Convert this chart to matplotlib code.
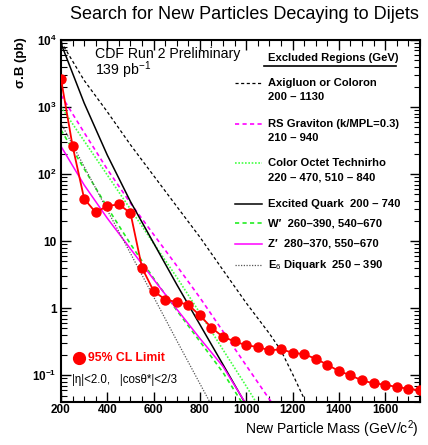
import numpy as np
import matplotlib
matplotlib.use("Agg")
import matplotlib.pyplot as plt
from matplotlib.ticker import MultipleLocator, FixedLocator, FixedFormatter, LogLocator, NullFormatter

# 95% CL limit points
limit_mass = [200, 250, 300, 350, 400, 450, 500, 550, 600, 650, 700, 750, 800, 850,
              900, 950, 1000, 1050, 1100, 1150, 1200, 1250, 1300, 1350, 1400, 1450,
              1500, 1550, 1600, 1650, 1700, 1750]
limit_xs = [2620, 264, 43, 26.8, 33.6, 35.3, 26.4, 4.0, 1.81, 1.35, 1.24, 1.13, 0.78, 0.515,
            0.373, 0.321, 0.280, 0.265, 0.236, 0.244, 0.218, 0.206, 0.177, 0.144, 0.116, 0.100,
            0.084, 0.076, 0.0726, 0.0669, 0.0632, 0.0597]

# theory curves
axi_mass = [200, 300, 400, 500, 600, 700, 800, 900, 1000, 1100, 1150, 1200, 1250]
axi_xs = [9400, 2500, 850, 274, 95, 33, 11.5, 3.7, 1.2, 0.42, 0.235, 0.105, 0.045]

rs_mass = [200, 300, 400, 500, 600, 700, 800, 900, 1000, 1100, 1120]
rs_xs = [1510, 417, 118, 37, 12.6, 4.3, 1.44, 0.45, 0.14, 0.044, 0.035]

rho_mass = [200, 300, 400, 500, 600, 700, 800, 900, 1000, 1050]
rho_xs = [1010, 313, 97, 30, 9.3, 2.9, 0.85, 0.24, 0.069, 0.036]

q_mass = [200, 300, 400, 500, 600, 700, 800, 900, 1000]
q_xs = [8900, 1150, 192, 39, 9.4, 2.26, 0.57, 0.144, 0.036]

w_mass = [200, 300, 400, 500, 600, 700, 800, 900, 980]
w_xs = [457, 120, 32, 9.1, 2.8, 0.93, 0.32, 0.11, 0.04]

z_mass = [200, 300, 400, 500, 600, 700, 800, 900, 1000]
z_xs = [260, 69, 22, 7.7, 2.7, 0.97, 0.355, 0.135, 0.037]

e6_mass = [200, 300, 400, 500, 600, 700, 800, 850]
e6_xs = [575, 130, 29, 6.6, 1.48, 0.33, 0.075, 0.036]

legend_labels = ["Axigluon or Coloron\n200 \u2013 1130",
                 "RS Graviton (k/MPL=0.3)\n210 \u2013 940",
                 "Color Octet Technirho\n220 \u2013 470, 510 \u2013 840",
                 "Excited Quark  200 \u2013 740",
                 "W\u2032  260\u2013390, 540\u2013670",
                 "Z\u2032  280\u2013370, 550\u2013670",
                 "E$_6$ Diquark  250 \u2013 390"]

plt.rcParams['font.family'] = ['Liberation Sans', 'DejaVu Sans']
plt.rcParams['mathtext.fontset'] = 'custom'
plt.rcParams['mathtext.rm'] = 'Liberation Sans'
plt.rcParams['mathtext.it'] = 'Liberation Sans:italic'
plt.rcParams['mathtext.bf'] = 'Liberation Sans:bold'

fig = plt.figure(figsize=(4.28, 4.45), dpi=100)
ax = fig.add_axes([0.1425, 0.0966, 0.8385, 0.8135])

styles = [
    (axi_mass, axi_xs, dict(color='black', ls=(0, (2.5, 2)), lw=0.9)),
    (rs_mass, rs_xs, dict(color='#ff00ff', ls=(0, (2.5, 2)), lw=1.2)),
    (rho_mass, rho_xs, dict(color='#44ff44', ls=(0, (1, 1)), lw=1.2)),
    (q_mass, q_xs, dict(color='black', ls='-', lw=1.1)),
    (w_mass, w_xs, dict(color='#22ee22', ls=(0, (2.5, 2)), lw=1.2)),
    (z_mass, z_xs, dict(color='#ff00ff', ls='-', lw=1.1)),
    (e6_mass, e6_xs, dict(color='#555555', ls=(0, (1, 1.2)), lw=0.9)),
]
for m, s, st in styles:
    ax.plot(m, s, **st)

ax.plot(limit_mass, limit_xs, color='red', lw=1.3, marker='o', ms=6.5,
        markeredgecolor='red', clip_on=True, zorder=5)

ax.set_yscale('log')
ax.set_xlim(200, 1750)
ax.set_ylim(0.04, 1e4)

ax.xaxis.set_major_locator(MultipleLocator(200))
ax.xaxis.set_minor_locator(MultipleLocator(50))
ax.yaxis.set_major_locator(FixedLocator([0.1, 1, 10, 100, 1000, 10000]))
ax.yaxis.set_major_formatter(FixedFormatter(['$\\mathbf{10^{-1}}$', '1', '10', '$\\mathbf{10^{2}}$',
                                             '$\\mathbf{10^{3}}$', '$\\mathbf{10^{4}}$']))
ax.yaxis.set_minor_locator(LogLocator(base=10, subs=np.arange(2, 10)))
ax.yaxis.set_minor_formatter(NullFormatter())
ax.tick_params(which='both', direction='in', top=True, right=True, labelsize=8.5)
ax.tick_params(which='major', length=7, width=1)
ax.tick_params(which='minor', length=4, width=0.8)
ax.tick_params(axis='x', pad=1.5)
ax.tick_params(axis='y', pad=3)
for lab in ax.get_xticklabels() + ax.get_yticklabels():
    lab.set_fontweight('bold')
for sp in ax.spines.values():
    sp.set_linewidth(1.5)

fig.text(0.572, 0.968, "Search for New Particles Decaying to Dijets", ha='center', va='center',
         fontsize=13)
fig.text(0.049, 0.86, "\u03c3.B (pb)", rotation=90, ha='center', va='center', fontsize=9.5,
         fontweight='bold')
fig.text(0.977, 0.036, "New Particle Mass (GeV/c$^2$)", ha='right', va='center', fontsize=10)

def fx(px):
    return px / 428.0

def fy(py):
    return 1 - py / 445.0

fig.text(fx(95), fy(54), "CDF Run 2 Preliminary", ha='left', va='center', fontsize=10.2)
fig.text(fx(95), fy(70), "139 pb$^{-1}$", ha='left', va='center', fontsize=10.2)
fig.text(fx(268), fy(58), "Excluded Regions (GeV)", ha='left', va='center', fontsize=8.1,
         fontweight='bold')
fig.add_artist(plt.Line2D([fx(264), fx(396)], [fy(66), fy(66)], color='black', lw=1.2))

rows = [(83, 97), (124, 138), (163, 177), (204, None), (223, None), (244, None), (265, None)]
for (ya, yb), lab, (_, _, st) in zip(rows, legend_labels, styles):
    fig.add_artist(plt.Line2D([fx(235), fx(262)], [fy(ya), fy(ya)], **st))
    parts = lab.split("\n")
    fig.text(fx(268), fy(ya), parts[0], ha='left', va='center', fontsize=8.1, fontweight='bold')
    if yb is not None:
        fig.text(fx(268), fy(yb), parts[1], ha='left', va='center', fontsize=8.1,
                 fontweight='bold')

fig.add_artist(plt.Line2D([fx(79)], [fy(358)], marker='o', ms=8.5, color='red'))
fig.text(fx(88), fy(358), "95% CL Limit", color='red', ha='left', va='center', fontsize=8.8,
         fontweight='bold')
fig.text(fx(72), fy(380), "|\u03b7|<2.0,   |cos\u03b8*|<2/3", ha='left', va='center',
         fontsize=8.3)

fig.savefig("out.png", dpi=100)
